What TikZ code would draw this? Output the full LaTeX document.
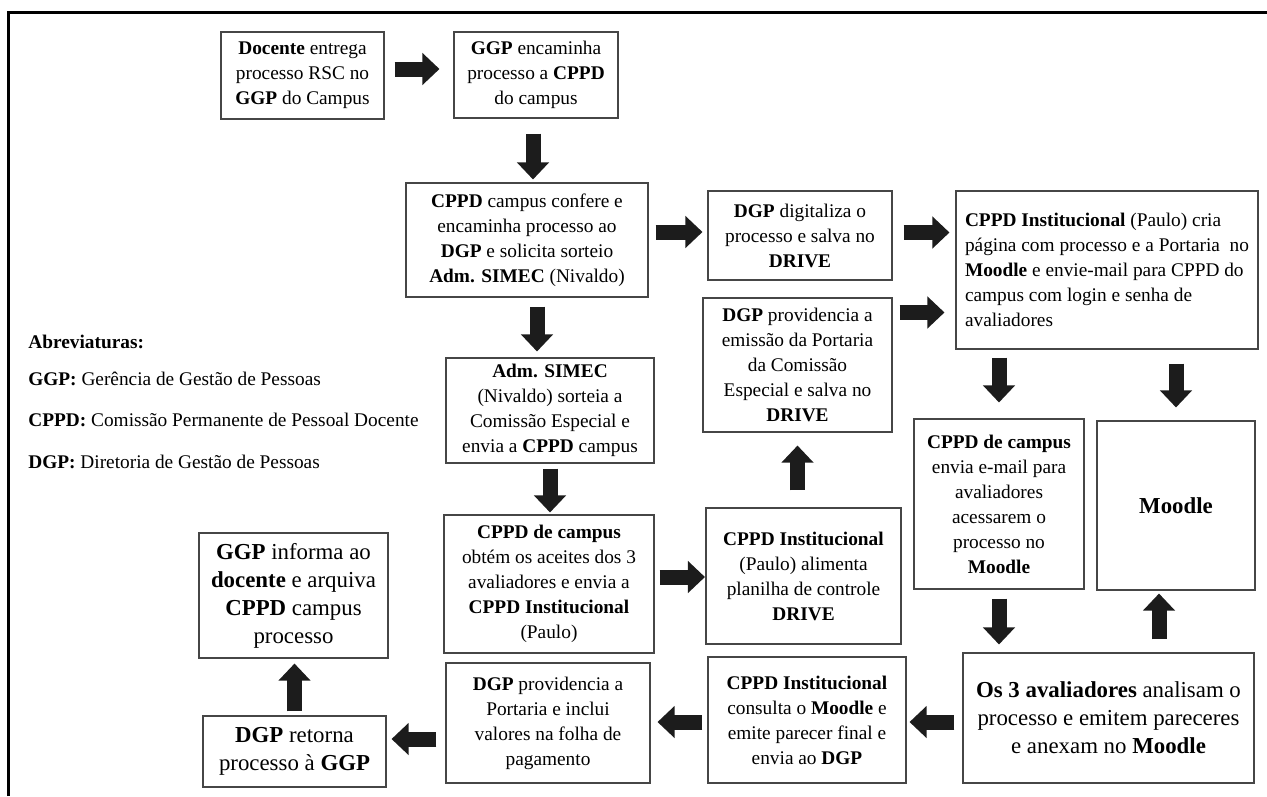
\documentclass[tikz,border=0pt]{standalone}
\usepackage{fontspec}
\setmainfont{Liberation Serif}
\usetikzlibrary{arrows.meta}
\definecolor{boxline}{RGB}{70,70,70}
\definecolor{arrowfill}{RGB}{28,28,28}
\newcommand{\boxfont}{\fontsize{11}{14.2}\selectfont}
\newcommand{\bigboxfont}{\fontsize{13}{15.9}\selectfont}

\begin{document}
\begin{tikzpicture}[
  stage/.style={draw=boxline,line width=0.6pt,align=center,inner sep=0pt,font=\boxfont},
  blk/.style={arrowfill,line width=0.3cm,-{Triangle[length=0.34cm,width=0.62cm]}}
]
\useasboundingbox (0,0) rectangle (25.34,-15.92);
\draw[line width=0.06cm] (0.18,-15.92) -- (0.18,-0.24) -- (25.34,-0.24);

\node[stage,minimum width=3.26cm,minimum height=1.74cm] (doc) at (6.05,-1.51) {\textbf{Docente} entrega\\processo RSC no\\\textbf{GGP} do Campus};
\node[stage,minimum width=3.28cm,minimum height=1.72cm] (ggp) at (10.72,-1.50) {\textbf{GGP} encaminha\\processo a \textbf{CPPD}\\do campus};
\node[stage,minimum width=4.84cm,minimum height=2.28cm] (cppd) at (10.54,-4.80) {\textbf{CPPD} campus confere e\\encaminha processo ao\\\textbf{DGP} e solicita sorteio\\\textbf{Adm. SIMEC} (Nivaldo)};
\node[stage,minimum width=3.68cm,minimum height=1.78cm] (dig) at (16.00,-4.71) {\textbf{DGP} digitaliza o\\processo e salva no\\\textbf{DRIVE}};
\node[stage,align=left,minimum width=6.04cm,minimum height=3.16cm] (inst) at (22.14,-5.40) {\textbf{CPPD Institucional} (Paulo) cria\\página com processo e a Portaria\ \ no\\\textbf{Moodle} e envie-mail para CPPD do\\campus com login e senha de\\avaliadores};
\node[stage,minimum width=4.16cm,minimum height=2.10cm] (sorteio) at (11.00,-8.21) {\textbf{Adm. SIMEC}\\(Nivaldo) sorteia a\\Comissão Especial e\\envia a \textbf{CPPD} campus};
\node[stage,minimum width=3.78cm,minimum height=2.68cm] (emissao) at (15.95,-7.30) {\textbf{DGP} providencia a\\emissão da Portaria\\da Comissão\\Especial e salva no\\\textbf{DRIVE}};
\node[stage,minimum width=3.40cm,minimum height=3.40cm] (envia) at (19.98,-10.08) {\textbf{CPPD de campus}\\envia e-mail para\\avaliadores\\acessarem o\\processo no\\\textbf{Moodle}};
\node[stage,font=\bigboxfont,minimum width=3.16cm,minimum height=3.38cm] (moodle) at (23.52,-10.11) {\textbf{Moodle}};
\node[stage,minimum width=4.20cm,minimum height=2.76cm] (aceites) at (10.98,-11.68) {\textbf{CPPD de campus}\\obtém os aceites dos 3\\avaliadores e envia a\\\textbf{CPPD Institucional}\\(Paulo)};
\node[stage,minimum width=3.90cm,minimum height=2.72cm] (planilha) at (16.07,-11.52) {\textbf{CPPD Institucional}\\(Paulo) alimenta\\planilha de controle\\\textbf{DRIVE}};
\node[stage,font=\bigboxfont,minimum width=3.78cm,minimum height=2.50cm] (informa) at (5.87,-11.91) {\textbf{GGP} informa ao\\\textbf{docente} e arquiva\\\textbf{CPPD} campus\\processo};
\node[stage,font=\bigboxfont,minimum width=3.66cm,minimum height=1.42cm] (retorna) at (5.89,-15.03) {\textbf{DGP} retorna\\processo à \textbf{GGP}};
\node[stage,minimum width=4.08cm,minimum height=2.40cm] (folha) at (10.96,-14.46) {\textbf{DGP} providencia a\\Portaria e inclui\\valores na folha de\\pagamento};
\node[stage,minimum width=3.96cm,minimum height=2.52cm] (consulta) at (16.14,-14.40) {\textbf{CPPD Institucional}\\consulta o \textbf{Moodle} e\\emite parecer final e\\envia ao \textbf{DGP}};
\node[stage,font=\bigboxfont,minimum width=5.82cm,minimum height=2.60cm] (avaliadores) at (22.17,-14.36) {\textbf{Os 3 avaliadores} analisam o\\processo e emitem pareceres\\e anexam no \textbf{Moodle}};

\node[anchor=west,font=\boxfont,inner sep=0pt] (abrev) at (0.56,-6.84) {\textbf{Abreviaturas:}};
\node[anchor=west,font=\boxfont,inner sep=0pt] (ggpdef) at (0.56,-7.58) {\textbf{GGP:} Gerência de Gestão de Pessoas};
\node[anchor=west,font=\boxfont,inner sep=0pt] (cppddef) at (0.56,-8.40) {\textbf{CPPD:} Comissão Permanente de Pessoal Docente};
\node[anchor=west,font=\boxfont,inner sep=0pt] (dgpdef) at (0.56,-9.24) {\textbf{DGP:} Diretoria de Gestão de Pessoas};

\draw[blk,shorten <=0.2cm,shorten >=0.28cm] ([yshift=0.13cm]doc.east) -- ([yshift=0.13cm]doc.east -| ggp.west);
\draw[blk,shorten <=0.3cm,shorten >=0.06cm] ([xshift=-0.06cm]ggp.south) -- ([xshift=-0.06cm]ggp.south |- cppd.north);
\draw[blk,shorten <=0.14cm,shorten >=0.1cm] ([yshift=0.16cm]cppd.east) -- ([yshift=0.16cm]cppd.east -| dig.west);
\draw[blk,shorten <=0.22cm,shorten >=0.12cm] ([yshift=0.06cm]dig.east) -- ([yshift=0.06cm]dig.east -| inst.west);
\draw[blk,shorten <=0.18cm,shorten >=0.12cm] ([xshift=0.2cm]cppd.south) -- ([xshift=0.2cm]cppd.south |- sorteio.north);
\draw[blk,shorten <=0.14cm,shorten >=0.22cm] ([yshift=-0.3cm]emissao.north east) -- ([yshift=-0.3cm]emissao.north east -| inst.west);
\draw[blk,shorten <=0.16cm,shorten >=0.32cm] (envia.north |- inst.south) -- (envia.north);
\draw[blk,shorten <=0.28cm,shorten >=0.26cm] (moodle.north |- inst.south) -- (moodle.north);
\draw[blk,shorten <=0.1cm,shorten >=0.04cm] (sorteio.south) -- (sorteio.south |- aceites.north);
\draw[blk,shorten <=0.34cm,shorten >=0.26cm] (emissao.south |- planilha.north) -- (emissao.south);
\draw[blk,shorten <=0.1cm,shorten >=0.01cm] ([yshift=0.14cm]aceites.east) -- ([yshift=0.14cm]aceites.east -| planilha.west);
\draw[blk,shorten <=0.18cm,shorten >=0.16cm] (envia.south) -- (envia.south |- avaliadores.north);
\draw[blk,shorten <=0.26cm,shorten >=0.06cm] ([xshift=-0.34cm]moodle.south |- avaliadores.north) -- ([xshift=-0.34cm]moodle.south);
\draw[blk,shorten <=0.16cm,shorten >=0.06cm] ([yshift=-0.08cm]avaliadores.west) -- ([yshift=-0.08cm]avaliadores.west -| consulta.east);
\draw[blk,shorten <=0.1cm,shorten >=0.14cm] ([yshift=-0.04cm]consulta.west) -- ([yshift=-0.04cm]consulta.west -| folha.east);
\draw[blk,shorten <=0.18cm,shorten >=0.1cm] ([yshift=-0.32cm]folha.west) -- ([yshift=-0.32cm]folha.west -| retorna.east);
\draw[blk,shorten <=0.08cm,shorten >=0.1cm] (retorna.north) -- (retorna.north |- informa.south);
\end{tikzpicture}
\end{document}
